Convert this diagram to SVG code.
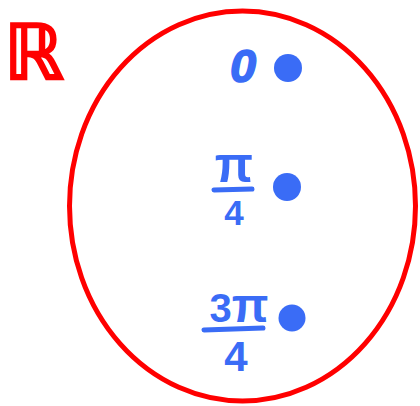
<svg xmlns="http://www.w3.org/2000/svg" width="420" height="406" viewBox="0 0 420 406">
<style>
.b{fill:#3a6cf6;font-family:"Liberation Sans",Arial,sans-serif;font-weight:bold;text-anchor:middle}
.dot{fill:#3a6cf6}
.bar{stroke:#3a6cf6;stroke-width:5;stroke-linecap:round}
</style>
<rect width="420" height="406" fill="#fff"/>
<g id="set-R">
<ellipse cx="242.5" cy="206" rx="173" ry="195" fill="none" stroke="#ff0000" stroke-width="5"/>
<text x="34" y="79" font-family="DejaVu Sans,sans-serif" font-size="76" fill="#ff0000" stroke="#ff0000" stroke-width="2.5" text-anchor="middle">ℝ</text>
</g>
<g id="point-0">
<text class="b" x="243" y="82" font-size="47" font-style="italic" font-weight="normal" stroke="#3a6cf6" stroke-width="1.5">0</text>
<circle class="dot" cx="288" cy="68" r="14"/>
</g>
<g id="point-pi4">
<text class="b" x="234" y="182" font-size="50">π</text>
<line class="bar" x1="214" y1="190" x2="252" y2="189"/>
<text class="b" x="234" y="225" font-size="35">4</text>
<circle class="dot" cx="287" cy="187" r="14"/>
</g>
<g id="point-3pi4">
<text class="b" x="239" y="322" font-size="40">3<tspan font-size="48">π</tspan></text>
<line class="bar" x1="204" y1="330" x2="263" y2="328"/>
<text class="b" x="236" y="371" font-size="42">4</text>
<circle class="dot" cx="292" cy="318" r="13.5"/>
</g>
</svg>
